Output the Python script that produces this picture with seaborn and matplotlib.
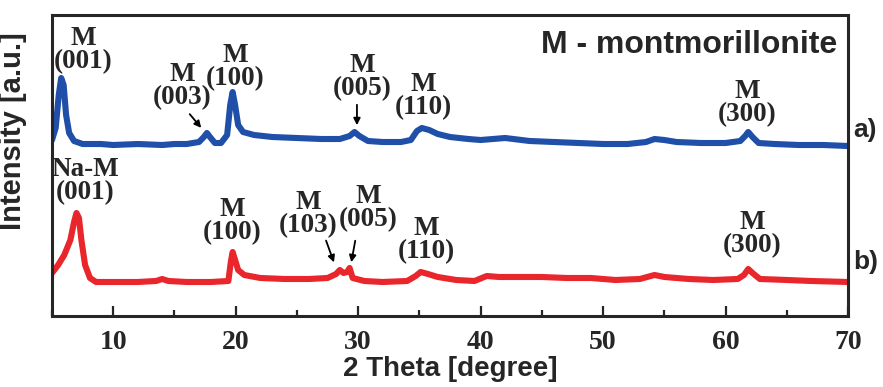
import numpy as np
import pandas as pd
import matplotlib
matplotlib.use("Agg")
import matplotlib.pyplot as plt
import seaborn as sns
from matplotlib.ticker import MultipleLocator

# ---------- data ----------
two_theta_a = [5.0, 5.3, 5.55, 5.75, 5.95, 6.15, 6.4, 6.8, 7.5, 9, 10, 12, 14, 15, 16,
               17.0, 17.4, 17.65, 17.9, 18.3, 18.8, 19.3, 19.55, 19.75, 19.95, 20.2, 20.6,
               21.5, 23, 25, 27, 28.5, 29.3, 29.7, 30.1, 30.8, 32, 33.5, 34.3, 34.8, 35.2,
               35.8, 36.5, 37.5, 39, 40, 42, 44, 46, 48, 50, 52, 53.5, 54.2, 55, 56, 58,
               60, 61.2, 61.6, 61.85, 62.2, 62.7, 64, 66, 68, 70]
intensity_a = [176, 188, 221, 238, 231, 201, 183, 175, 172, 172, 171, 172, 171, 172, 172,
               174, 179, 183, 179, 173, 173, 181, 211, 224, 211, 191, 184,
               181, 179, 178, 177, 177, 180, 184, 180, 175, 174, 174, 176, 185, 188,
               186, 182, 179, 177, 176, 178, 175, 174, 173, 172, 172, 174, 177, 176, 174, 173,
               173, 175, 180, 184, 179, 173, 172, 171, 171, 170]

two_theta_b = [5.0, 5.5, 6.0, 6.5, 6.8, 7.0, 7.2, 7.4, 7.7, 8.1, 8.6, 10, 12, 13.5, 14.0,
               14.5, 16, 18, 19.4, 19.6, 19.75, 19.95, 20.2, 20.7, 22, 24, 26, 27.5, 28.2,
               28.5, 28.8, 29.1, 29.3, 29.55, 30.5, 32, 34, 34.7, 35.1, 35.7, 36.5, 38,
               39.5, 40.5, 41.5, 43, 45, 47, 49, 51, 53, 54.2, 55, 57, 59, 61, 61.5, 61.85,
               62.2, 62.8, 65, 67, 70]
intensity_b = [43, 51, 61, 76, 94, 103, 98, 76, 51, 38, 34, 34, 34, 35, 37,
               35, 34, 34, 35, 54, 64, 56, 46, 41, 38, 37, 37, 38, 42,
               46, 43, 44, 48, 38, 35, 34, 35, 40, 44, 42, 39, 36,
               35, 40, 39, 39, 39, 38, 38, 36, 37, 41, 39, 37, 36, 37, 41, 47,
               43, 37, 36, 35, 34]

# peak labels: (text, x, y) for the two patterns
labels_a = [("M\n(001)", 7.53, 266), ("M\n(003)", 15.6, 230), ("M\n(100)", 19.94, 249),
            ("M\n(005)", 30.3, 239), ("M\n(110)", 35.3, 220), ("M\n(300)", 61.8, 213)]
labels_b = [("Na-M\n(001)", 7.7, 135), ("M\n(100)", 19.7, 95), ("M\n(103)", 25.9, 102),
            ("M\n(005)", 30.8, 108), ("M\n(110)", 35.6, 76), ("M\n(300)", 62.2, 82)]
# arrows: (tail x, tail y, tip x, tip y)
arrows = [(16.1, 204, 17.33, 186), (29.9, 214, 29.9, 188),
          (27.3, 78, 28.1, 51), (29.8, 78, 29.4, 51)]

df_a = pd.DataFrame({"two_theta": two_theta_a, "intensity": intensity_a})
df_b = pd.DataFrame({"two_theta": two_theta_b, "intensity": intensity_b})

# ---------- style ----------
sns.set_style("ticks")
plt.rcParams["font.family"] = ["Liberation Serif", "DejaVu Serif"]
plt.rcParams["axes.linewidth"] = 2.2

fig = plt.figure(figsize=(8.83, 3.87), dpi=100)
ax = fig.add_axes([0.0589, 0.1835, 0.9015, 0.7777])

sns.lineplot(data=df_a, x="two_theta", y="intensity", ax=ax, color="#1f4fa8",
             lw=4.4, estimator=None, sort=False)
sns.lineplot(data=df_b, x="two_theta", y="intensity", ax=ax, color="#e8262b",
             lw=4.4, estimator=None, sort=False)

ax.set_xlim(5, 70)
ax.set_ylim(0, 301)
ax.set_yticks([])
ax.xaxis.set_major_locator(MultipleLocator(10))
ax.xaxis.set_minor_locator(MultipleLocator(5))
ax.tick_params(axis="x", which="major", direction="in", length=7, width=1.6,
               labelsize=20, pad=10)
ax.tick_params(axis="x", which="minor", direction="in", length=4, width=1.6)
for lab in ax.get_xticklabels():
    lab.set_fontweight("bold")

ax.set_xlabel("2 Theta [degree]", family=["Liberation Sans"], fontweight="bold",
              fontsize=20, labelpad=1)
ax.set_ylabel("Intensity [a.u.]", family=["Liberation Sans"], fontweight="bold",
              fontsize=21)
ax.yaxis.set_label_coords(-0.031, 0.615)

for txt, x, y in labels_a + labels_b:
    ax.text(x, y, txt, ha="center", va="center", fontsize=19.5, fontweight="bold",
            linespacing=0.92)

for x0, y0, x1, y1 in arrows:
    ax.annotate("", xy=(x1, y1), xytext=(x0, y0),
                arrowprops=dict(arrowstyle="-|>", color="black", lw=1.3,
                                mutation_scale=10))

ax.text(0.986, 0.90, "M - montmorillonite", transform=ax.transAxes, ha="right",
        va="center", family=["Liberation Sans"], fontweight="bold", fontsize=23)
ax.text(1.006, 0.618, "a)", transform=ax.transAxes, ha="left", va="center",
        family=["Liberation Sans"], fontweight="bold", fontsize=19)
ax.text(1.006, 0.179, "b)", transform=ax.transAxes, ha="left", va="center",
        family=["Liberation Sans"], fontweight="bold", fontsize=19)

fig.savefig("out.png", dpi=100)
